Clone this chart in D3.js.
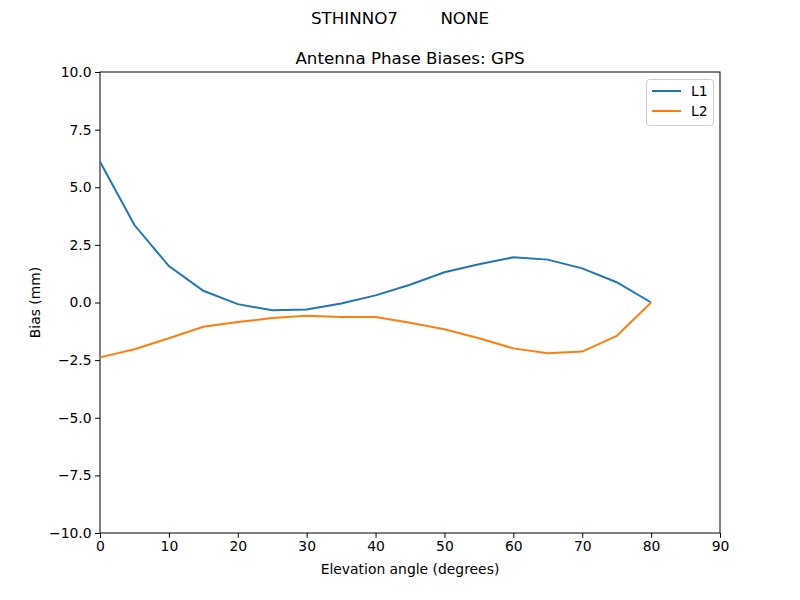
<!DOCTYPE html>
<html>
<head>
<meta charset="utf-8">
<script src="https://cdn.jsdelivr.net/npm/d3@7"></script>
<style>
body { margin: 0; background: #fff; }
text { font-family: "DejaVu Sans", sans-serif; }
</style>
</head>
<body>
<svg width="800" height="600"></svg>
<script>
// values
var elevation = [0, 5, 10, 15, 20, 25, 30, 35, 40, 45, 50, 55, 60, 65, 70, 75, 80];
var l1_bias = [6.11, 3.36, 1.58, 0.51, -0.07, -0.34, -0.30, -0.04, 0.31, 0.77, 1.31, 1.66, 1.96, 1.86, 1.48, 0.88, 0.0];
var l2_bias = [-2.38, -2.03, -1.55, -1.05, -0.85, -0.67, -0.57, -0.63, -0.63, -0.88, -1.16, -1.55, -1.99, -2.20, -2.13, -1.45, 0.0];
var series_names = ["L1", "L2"];
var series_colors = ["#1f77b4", "#ff7f0e"];
var x_ticks = [0, 10, 20, 30, 40, 50, 60, 70, 80, 90];
var y_ticks = [-10, -7.5, -5, -2.5, 0, 2.5, 5, 7.5, 10];

var svg = d3.select("svg");
// plot box (note: "top" is reserved on window, so use other names)
var plotLeft = 100, plotRight = 720, plotTop = 72, plotBottom = 533;

var x = d3.scaleLinear().domain([0, 90]).range([plotLeft, plotRight]);
var y = d3.scaleLinear().domain([-10, 10]).range([plotBottom, plotTop]);

// titles
svg.append("text")
    .attr("x", 400).attr("y", 24)
    .attr("text-anchor", "middle")
    .style("font-size", "16.7px")
    .attr("xml:space", "preserve")
    .text("STHINNO7        NONE");

svg.append("text")
    .attr("x", (plotLeft + plotRight) / 2).attr("y", 64)
    .attr("text-anchor", "middle")
    .style("font-size", "16.7px")
    .text("Antenna Phase Biases: GPS");

// axes
var xAxis = svg.append("g")
    .attr("transform", "translate(0," + plotBottom + ")")
    .call(d3.axisBottom(x).tickValues(x_ticks).tickSize(4.9).tickPadding(3.5));

var yAxis = svg.append("g")
    .attr("transform", "translate(" + plotLeft + ",0)")
    .call(d3.axisLeft(y).tickValues(y_ticks).tickSize(4.9).tickPadding(3.5)
        .tickFormat(function(d) { return d3.format(".1f")(d).replace("-", "\u2212"); }));

[xAxis, yAxis].forEach(function(a) {
    a.select(".domain").remove();
    a.selectAll("text").style("font-size", "13.9px").attr("fill", "#000");
    a.selectAll("line").attr("stroke", "#000").attr("stroke-width", 1);
});

// frame
svg.append("rect")
    .attr("x", plotLeft).attr("y", plotTop)
    .attr("width", plotRight - plotLeft).attr("height", plotBottom - plotTop)
    .attr("fill", "none").attr("stroke", "#000").attr("stroke-width", 1);

// axis labels
svg.append("text")
    .attr("x", (plotLeft + plotRight) / 2).attr("y", 574)
    .attr("text-anchor", "middle")
    .style("font-size", "13.9px")
    .text("Elevation angle (degrees)");

svg.append("text")
    .attr("transform", "translate(40," + (plotTop + plotBottom) / 2 + ") rotate(-90)")
    .attr("text-anchor", "middle")
    .style("font-size", "13.9px")
    .text("Bias (mm)");

// lines
var line = d3.line()
    .x(function(d, i) { return x(elevation[i]); })
    .y(function(d) { return y(d); });

[l1_bias, l2_bias].forEach(function(vals, k) {
    svg.append("path")
        .datum(vals)
        .attr("d", line)
        .attr("fill", "none")
        .attr("stroke", series_colors[k])
        .attr("stroke-width", 2);
});

// legend
var legend = svg.append("g");
legend.append("rect")
    .attr("x", 646.5).attr("y", 79.5)
    .attr("width", 67).attr("height", 46)
    .attr("rx", 3)
    .attr("fill", "#fff").attr("fill-opacity", 0.8)
    .attr("stroke", "#ccc");

series_names.forEach(function(name, k) {
    var ly = 91 + k * 20;
    legend.append("line")
        .attr("x1", 652).attr("x2", 681)
        .attr("y1", ly).attr("y2", ly)
        .attr("stroke", series_colors[k]).attr("stroke-width", 2);
    legend.append("text")
        .attr("x", 691).attr("y", ly + 5)
        .style("font-size", "13.9px")
        .text(name);
});
</script>
</body>
</html>
